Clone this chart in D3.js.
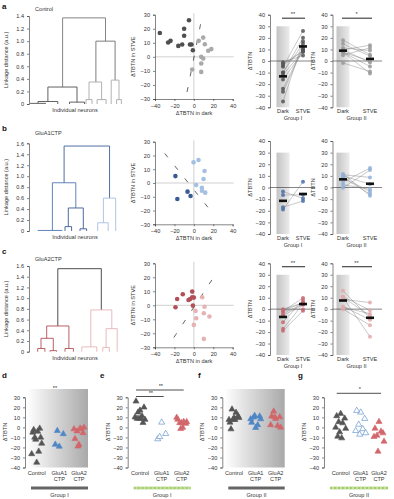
<!DOCTYPE html>
<html>
<head>
<meta charset="utf-8">
<script src="https://cdn.jsdelivr.net/npm/d3@7"></script>
<style>
  body { margin: 0; background: #fff; }
  svg { display: block; font-family: "Liberation Sans", Arial, sans-serif; }
</style>
</head>
<body>
<svg id="fig" width="394" height="499"></svg>
<script>
// ---- data: (dark, STVE) pairs per neuron ----
const ctrlG1Dark = [-35, -5, -10, -10, -24, -26.5, -16, -12, -4, -2.4, -1];
const ctrlG1Stve = [17, 26, 20, 15, 11.4, 10.2, 7.8, 8.8, 8.8, 8.8, 4.7];
const ctrlG2Dark = [9.6, 5, 11.3, 18, 14.8, 7.6, 9.6, 7.6, 7.6, -1.7];
const ctrlG2Stve = [13.7, 11.4, 9, 5.5, 4.3, 0, -1.2, -4.7, -10.7, -9];

const glua1G1Dark = [-19, -17, -6.5, -3.4];
const glua1G1Stve = [5, -11.6, -6.3, -9.4];
const glua1G2Dark = [-0.3, 4.8, 11, 10, 2.4, 8.3, 8.3, 11.7];
const glua1G2Stve = [15, 16.7, 8.7, 2.9, -1.5, -3.4, -5.6, -7];

const glua2G1Dark = [-17.2, -11.4, -5.5, -3.8, -1.7, -1.7, 0, -18.9, -1];
const glua2G1Stve = [4.5, 7.9, 3.8, 4.5, 5.7, 9.8, 5.5, -1.4, -0.2];
const glua2G2Dark = [8.6, 11, 10.3, 16, 1.7, 2.4, 0, 10.3];
const glua2G2Stve = [5.7, -1, -5.7, -8, -4, -9.3, -14, -24];

// classification boundary lines in the scatter panels [x1, y1, x2, y2]
const ctrlBoundary = [-7, -25, 8, 27];
const glua1Boundary = [-30, 21.5, 20, -22.5];
const glua2Boundary = [-20.6, -23, 22, 21.7];

// dendrogram links: [xLeft, xRight, height, leftChildHeight, rightChildHeight, tone]
const ctrlLinks = [
  [11.2, 25.5, 1.37, 0.27, 1.0, 'top'],
  [6.3, 16, 0.27, 0.04, 0.03, 'dark'],
  [3, 9.6, 0.04, 0.01, 0, 'dark'],
  [0.5, 5.5, 0.01, 0, 0, 'dark'],
  [13.5, 18.5, 0.03, 0, 0, 'dark'],
  [22.3, 28.7, 1.0, 0.35, 0.38, 'mid'],
  [20, 24.2, 0.35, 0.07, 0.07, 'light'],
  [19, 21, 0.07, 0, 0, 'light'],
  [22.7, 25.7, 0.07, 0, 0, 'light'],
  [27.4, 30, 0.38, 0, 0.07, 'light'],
  [29.2, 30.8, 0.07, 0, 0, 'light']
];
const glua1Links = [
  [11.7, 26.85, 1.55, 0.88, 0.6, 'top'],
  [7.8, 15.6, 0.88, 0.01, 0.42, 'mid'],
  [3, 11, 0.01, 0, 0, 'mid'],
  [13.1, 18.1, 0.42, 0.08, 0.04, 'dark'],
  [12, 14.2, 0.08, 0, 0, 'dark'],
  [17, 19.2, 0.04, 0, 0, 'dark'],
  [24.8, 28.9, 0.6, 0.15, 0, 'light'],
  [22.9, 26.4, 0.15, 0, 0, 'light']
];
const glua2Links = [
  [9.6, 24.1, 1.55, 0.48, 0.78, 'top'],
  [5.9, 13.3, 0.48, 0.25, 0.06, 'dark'],
  [4, 8.1, 0.25, 0.06, 0.02, 'dark'],
  [2.9, 5.3, 0.06, 0, 0, 'dark'],
  [7, 9.2, 0.02, 0, 0, 'dark'],
  [12, 14.8, 0.06, 0, 0, 'dark'],
  [20.6, 27.6, 0.78, 0.09, 0.43, 'light'],
  [17.6, 22.6, 0.09, 0, 0, 'light'],
  [25.7, 29.4, 0.43, 0.08, 0, 'light'],
  [24.6, 26.8, 0.08, 0, 0, 'light']
];

const conditions = ['Control', 'GluA1\nCTP', 'GluA2\nCTP'];

// ---- style ----
const ink = '#333';
const fs = 5.6;
const palette = {
  ctrl: { dark: '#4f4f4f', light: '#a9a9a9', mid: '#6e6e6e', top: '#777' },
  glua1: { dark: '#3a5b94', light: '#a5c0e3', mid: '#4f76b4', top: '#3d5f9a' },
  glua2: { dark: '#b24f57', light: '#e6b3b5', mid: '#c46c72', top: '#3a3a3a' }
};
const triColors = ['#555', '#4f86c6', '#d2676b'];

const svg = d3.select('#fig');
const defs = svg.append('defs');

const shade = defs.append('linearGradient').attr('id', 'shade');
shade.append('stop').attr('offset', '0%').attr('stop-color', '#c3c3c3');
shade.append('stop').attr('offset', '100%').attr('stop-color', '#ececec');

const bgGrad = defs.append('linearGradient').attr('id', 'bgGrad');
bgGrad.append('stop').attr('offset', '0%').attr('stop-color', '#ffffff');
bgGrad.append('stop').attr('offset', '100%').attr('stop-color', '#a9a9a9');

function styleAxis(g) {
  g.selectAll('path, line').attr('stroke', ink).attr('stroke-width', 0.6);
  g.selectAll('text').attr('font-size', fs).attr('fill', ink);
}

function text(x, y, str, opts = {}) {
  return svg.append('text')
    .attr('x', x).attr('y', y)
    .attr('font-size', opts.size || fs)
    .attr('font-weight', opts.bold ? 'bold' : null)
    .attr('text-anchor', opts.anchor || 'middle')
    .attr('fill', opts.fill || ink)
    .text(str);
}

function vlabel(x, y, str) {
  svg.append('text')
    .attr('transform', `translate(${x},${y}) rotate(-90)`)
    .attr('font-size', fs).attr('text-anchor', 'middle').attr('fill', ink)
    .text(str);
}

// ---- dendrogram ----
function dendrogram(links, colors, yMax, yTop, yBottom, title, titleY) {
  const x = d3.scaleLinear().domain([0, 30]).range([29, 119]);
  const y = d3.scaleLinear().domain([0, yMax]).range([yBottom, yTop]);

  svg.append('g')
    .attr('transform', 'translate(29,0)')
    .call(d3.axisLeft(y).tickValues(d3.range(0, yMax + 0.01, 0.2)).tickSize(2)
      .tickFormat(d => d < 0.01 ? '0' : d3.format('.1f')(d)))
    .call(styleAxis);

  svg.append('g').selectAll('path')
    .data(links)
    .join('path')
    .attr('fill', 'none')
    .attr('stroke', d => colors[d[5]])
    .attr('stroke-width', 0.9)
    .attr('d', d => `M${x(d[0])},${y(d[3])}V${y(d[2])}H${x(d[1])}V${y(d[4])}`);

  text(35, titleY, title, { anchor: 'start' });
  text(75, yBottom + 8, 'Individual neurons');
  vlabel(8, (yTop + yBottom) / 2, 'Linkage distance (a.u.)');
}

// ---- scatter (dark vs STVE) ----
function scatter(g1d, g1s, g2d, g2s, boundary, colors, yTop, yBottom) {
  const x = d3.scaleLinear().domain([-40, 40]).range([155, 232.7]);
  const y = d3.scaleLinear().domain([-30, 30]).range([yBottom, yTop]);

  svg.append('line').attr('x1', x(-40)).attr('x2', x(41)).attr('y1', y(0)).attr('y2', y(0))
    .attr('stroke', '#bbb').attr('stroke-width', 0.7);
  svg.append('line').attr('x1', x(0)).attr('x2', x(0)).attr('y1', y(31)).attr('y2', y(-30))
    .attr('stroke', '#bbb').attr('stroke-width', 0.7);

  svg.append('g').attr('transform', `translate(0,${yBottom})`)
    .call(d3.axisBottom(x).tickValues([-40, -20, 0, 20, 40]).tickSize(2))
    .call(styleAxis);
  svg.append('g').attr('transform', 'translate(155,0)')
    .call(d3.axisLeft(y).tickValues(d3.range(-30, 31, 10)).tickSize(2))
    .call(styleAxis);

  svg.append('line')
    .attr('x1', x(boundary[0])).attr('y1', y(boundary[1]))
    .attr('x2', x(boundary[2])).attr('y2', y(boundary[3]))
    .attr('stroke', '#222').attr('stroke-width', 0.7).attr('stroke-dasharray', '5,11');

  const pts = g1d.map((d, i) => ({ dx: d, sy: g1s[i], c: colors.dark }))
    .concat(g2d.map((d, i) => ({ dx: d, sy: g2s[i], c: colors.light })));
  svg.append('g').selectAll('circle')
    .data(pts)
    .join('circle')
    .attr('cx', d => x(d.dx)).attr('cy', d => y(d.sy))
    .attr('r', 2.3).attr('fill', d => d.c);

  text(194, yBottom + 16, '\u0394TBTN in dark');
  vlabel(135, (yTop + yBottom) / 2, '\u0394TBTN in STVE');
}

// ---- paired dark/STVE ----
function paired(axisX, darkX, stveX, yTop, yBottom, dark, stve, color, group, sig) {
  const y = d3.scaleLinear().domain([-40, 40]).range([yBottom, yTop]);

  svg.append('rect')
    .attr('x', darkX - 6.5).attr('width', 13)
    .attr('y', y(30)).attr('height', y(-40) - y(30))
    .attr('fill', 'url(#shade)');

  svg.append('g').attr('transform', `translate(${axisX},0)`)
    .call(d3.axisLeft(y).tickValues(d3.range(-40, 41, 10)).tickSize(2))
    .call(styleAxis);

  svg.append('line').attr('x1', axisX).attr('x2', stveX + 12)
    .attr('y1', y(0)).attr('y2', y(0)).attr('stroke', ink).attr('stroke-width', 0.6);

  svg.append('g').selectAll('line')
    .data(dark)
    .join('line')
    .attr('x1', darkX).attr('x2', stveX)
    .attr('y1', d => y(d)).attr('y2', (d, i) => y(stve[i]))
    .attr('stroke', '#777').attr('stroke-width', 0.4);

  const g = svg.append('g');
  g.selectAll('.pd').data(dark).join('circle')
    .attr('cx', darkX).attr('cy', d => y(d)).attr('r', 2)
    .attr('fill', color).attr('fill-opacity', 0.85);
  g.selectAll('.ps').data(stve).join('circle')
    .attr('cx', stveX).attr('cy', d => y(d)).attr('r', 2)
    .attr('fill', color).attr('fill-opacity', 0.85);

  [[darkX, d3.mean(dark)], [stveX, d3.mean(stve)]].forEach(([cx, m]) => {
    svg.append('rect').attr('x', cx - 4).attr('y', y(m) - 1.3)
      .attr('width', 8).attr('height', 2.6).attr('fill', '#111');
  });

  if (sig) {
    svg.append('line').attr('x1', darkX - 1).attr('x2', stveX + 2)
      .attr('y1', y(37)).attr('y2', y(37)).attr('stroke', '#222').attr('stroke-width', 1);
    text((darkX + stveX) / 2, y(37) - 2, sig);
  }

  text(darkX, yBottom + 6, 'Dark');
  text(stveX, yBottom + 6, 'STVE');
  text((darkX + stveX) / 2, yBottom + 12.5, group);
  vlabel(axisX - 18, (yTop + yBottom) / 2, '\u0394TBTN');
}

// ---- triangle strip panels d-g ----
const jitter = [0, -4, 4, -2, 2, -5, 5, -1, 1, -3, 3];
function tri(axisX, catX, sets, openBlue, bg, group, sigs) {
  const y = d3.scaleLinear().domain([-40, 30]).range([467.5, 397.3]);
  const left = axisX + 2, right = catX[2] + 9;

  if (bg) {
    svg.append('rect').attr('x', left).attr('y', 389)
      .attr('width', right - left).attr('height', 467.5 - 389)
      .attr('fill', 'url(#bgGrad)');
  }

  svg.append('g').attr('transform', `translate(${axisX},0)`)
    .call(d3.axisLeft(y).tickValues(d3.range(-40, 31, 10)).tickSize(2))
    .call(styleAxis);

  const sym = d3.symbol(d3.symbolTriangle, 16);
  sets.forEach((vals, k) => {
    svg.append('g').selectAll('path')
      .data(vals)
      .join('path')
      .attr('d', sym)
      .attr('transform', (d, i) => `translate(${catX[k] + jitter[i % jitter.length]},${y(d)})`)
      .attr('fill', k === 1 && openBlue ? '#fff' : triColors[k])
      .attr('stroke', triColors[k])
      .attr('stroke-width', 0.6);
  });

  conditions.forEach((c, k) => {
    const lines = c.split('\n');
    lines.forEach((s, j) => text(catX[k], 475 + j * 6, s));
  });

  if (bg) {
    svg.append('rect').attr('x', left + 4).attr('y', 486.5)
      .attr('width', right - left - 4).attr('height', 3).attr('fill', '#666');
  } else {
    svg.append('rect').attr('x', left + 4).attr('y', 486.5)
      .attr('width', right - left - 4).attr('height', 3).attr('fill', '#c4e09a');
    svg.append('line').attr('x1', left + 4).attr('x2', right)
      .attr('y1', 488).attr('y2', 488)
      .attr('stroke', '#86b54a').attr('stroke-width', 1.2).attr('stroke-dasharray', '2,2');
  }
  text((left + right) / 2 + 2, 497, group);

  sigs.forEach(s => {
    if (s.from !== undefined) {
      svg.append('line').attr('x1', catX[s.from] - 4).attr('x2', catX[s.to] + 2)
        .attr('y1', s.y).attr('y2', s.y).attr('stroke', '#222').attr('stroke-width', 0.8);
    }
    text(s.x !== undefined ? s.x : (catX[s.from] + catX[s.to]) / 2, s.y - 2, s.label);
  });

  vlabel(axisX - 18, 432, '\u0394TBTN');
}

// ---- panel letters ----
[['a', 2, 9], ['b', 2, 131], ['c', 2, 254], ['d', 2, 378], ['e', 100, 378], ['f', 198, 378], ['g', 298, 378]]
  .forEach(([l, x, y]) => text(x, y, l, { bold: true, size: 8, anchor: 'start', fill: '#111' }));

// row a
dendrogram(ctrlLinks, palette.ctrl, 1.4, 16, 104, 'Control', 11);
scatter(ctrlG1Dark, ctrlG1Stve, ctrlG2Dark, ctrlG2Stve, ctrlBoundary, palette.ctrl, 14.7, 99);
paired(270, 283, 303, 14.7, 107.3, ctrlG1Dark, ctrlG1Stve, '#555', 'Group I', '**');
paired(332.5, 343, 370, 14.7, 107.3, ctrlG2Dark, ctrlG2Stve, '#999', 'Group II', '*');

// row b
dendrogram(glua1Links, palette.glua1, 1.6, 143.3, 231, 'GluA1CTP', 135);
scatter(glua1G1Dark, glua1G1Stve, glua1G2Dark, glua1G2Stve, glua1Boundary, palette.glua1, 141.7, 224.3);
paired(270, 283, 303, 141, 234, glua1G1Dark, glua1G1Stve, '#4a6fa8', 'Group I', null);
paired(332.5, 343, 370, 141, 234, glua1G2Dark, glua1G2Stve, '#8fb0da', 'Group II', null);

// row c
dendrogram(glua2Links, palette.glua2, 1.6, 266, 351.7, 'GluA2CTP', 261);
scatter(glua2G1Dark, glua2G1Stve, glua2G2Dark, glua2G2Stve, glua2Boundary, palette.glua2, 263.3, 347.3);
paired(270, 283, 303, 263.3, 355, glua2G1Dark, glua2G1Stve, '#c46a72', 'Group I', '**');
paired(332.5, 343, 370, 263.3, 355, glua2G2Dark, glua2G2Stve, '#e3a9ab', 'Group II', '**');

// row d-g
tri(25, [36.7, 59.3, 79], [ctrlG1Dark, glua1G1Dark, glua2G1Dark], false, true, 'Group I',
  [{ x: 55, y: 392, label: '**' }]);
tri(127.7, [140, 161.7, 181.7], [ctrlG1Stve, glua1G1Stve, glua2G1Stve], true, false, 'Group I',
  [{ from: 0, to: 2, y: 390, label: '**' }, { from: 0, to: 1, y: 396.5, label: '**' }]);
tri(222.3, [234, 255.7, 275.7], [ctrlG2Dark, glua1G2Dark, glua2G2Dark], false, true, 'Group II', []);
tri(324, [340.7, 360.7, 379], [ctrlG2Stve, glua1G2Stve, glua2G2Stve], true, false, 'Group II',
  [{ from: 0, to: 2, y: 393.3, label: '*' }]);
</script>
</body>
</html>
